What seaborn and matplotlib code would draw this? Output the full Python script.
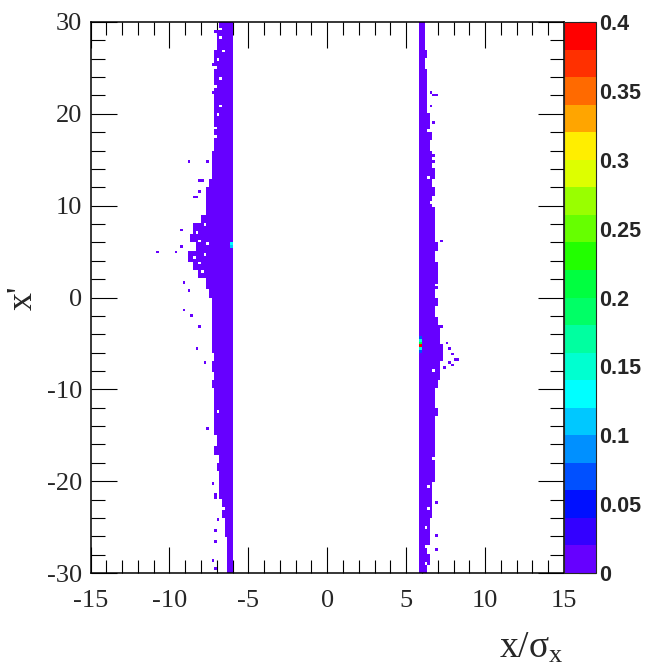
import numpy as np
import pandas as pd
import matplotlib
matplotlib.use("Agg")
import matplotlib.pyplot as plt
from matplotlib.colors import ListedColormap
from matplotlib.ticker import MultipleLocator
import seaborn as sns

# ── Binning of the 2D histogram ────────────────────────────────────────────
X_RANGE = (-15, 15)
Y_RANGE = (-30, 30)
N_XBINS = 180
N_YBINS = 200

# ── Band edge profiles, one value per 1-unit row (y = 29.5 ... -29.5) ──────
LEFT_BAND_XMAX = -6.05
LEFT_BAND_XMIN = [
    -6.9, -7.0, -7.0, -7.1, -7.1, -7.2, -7.1, -7.2, -7.2, -7.2,
    -7.2, -7.2, -7.1, -7.2, -7.3, -7.4, -7.3, -7.5, -7.6, -7.7,
    -7.6, -8.0, -8.5, -8.7, -8.4, -8.8, -8.5, -8.2, -7.6, -7.5,
    -7.4, -7.3, -7.4, -7.3, -7.4, -7.3, -7.2, -7.3, -7.2, -7.3,
    -7.2, -7.1, -7.2, -7.1, -7.2, -7.0, -7.1, -6.9, -7.0, -6.9,
    -6.8, -6.8, -6.7, -6.6, -6.5, -6.5, -6.4, -6.4, -6.3, -6.3,
]
RIGHT_BAND_XMIN = 5.85
RIGHT_BAND_XMAX = [
    6.1, 6.2, 6.2, 6.3, 6.2, 6.3, 6.4, 6.3, 6.3, 6.4,
    6.5, 6.5, 6.6, 6.5, 6.6, 6.7, 6.8, 6.7, 6.8, 6.7,
    6.8, 6.8, 6.9, 6.9, 7.0, 6.9, 7.0, 7.0, 7.0, 6.9,
    7.0, 6.9, 7.0, 7.1, 7.2, 7.3, 7.3, 7.1, 7.1, 7.0,
    6.9, 6.9, 7.0, 6.9, 6.9, 6.8, 6.9, 6.8, 6.8, 6.8,
    6.7, 6.6, 6.7, 6.6, 6.5, 6.5, 6.5, 6.4, 6.5, 6.4,
]

# isolated filled cells outside the bands
DOTS_X = [-7.1, -7.3, -7.3, -8.8, -7.6, -8.1, -7.9, -8.1, -8.3, -8.4,
          -9.2, -10.8, -9.5, -9.3, -9.0, -8.7, -9.0, -8.5, -8.1, -8.2,
          -7.8, -7.6, -7.3, -7.0, -7.1, -6.9, -7.1, -7.0, -7.2, -7.0,
          6.56, 6.83, 6.98, 6.56, 6.7, 6.7, 6.7, 7.3, 7.3, 7.6,
          7.8, 7.9, 8.1, 8.3, 7.7, 8.0, 7.5, 6.9, 6.9, 6.9]
DOTS_Y = [29.0, 25.5, 22.5, 15.0, 14.7, 12.8, 12.8, 11.4, 11.1, 10.9,
          7.3, 5.0, 4.8, 5.6, 1.6, 0.8, -1.4, -2.1, -3.1, -5.5,
          -7.0, -14.2, -20.2, -21.3, -21.8, -24.2, -25.4, -26.5, -28.7, -29.6,
          22.3, 22.0, 22.1, 21.0, 19.1, 15.6, 14.9, 6.25, -3.2, -4.9,
          -5.6, -6.3, -6.7, -6.9, -7.1, -7.3, -7.5, -22.2, -25.9, -27.5]

# empty cells inside the bands
GAPS_X = [-6.6, -6.8, -6.9, -7.0, -8.3, -8.0, -8.5, -7.8, -8.1, -7.9,
          -8.4, -7.7, -7.5, -8.6, -8.2, -7.0, -6.9, -6.6, -6.7, -6.9,
          -7.0, -6.8, -7.1, -7.0, -6.8, -7.0,
          6.3, 6.4, 6.6, 6.5, 6.5, 6.4, 6.3, 6.2, 6.3, 6.6, 6.8, 7.0,
          6.2, 6.5, 6.7]
GAPS_Y = [27.0, 24.0, 20.0, 17.5, 7.0, 6.2, 5.5, 4.6, 3.8, 2.8,
          4.2, 7.8, 6.0, 3.2, 8.4, -16.0, -12.5, -22.8, 28.4, 26.1,
          23.0, 21.0, 18.6, -18.4, 29.4, 25.0,
          25.0, 21.5, 16.4, 13.0, -20.5, -23.0, -25.0, -27.0, -29.0, 10.5, -8.0, 1.2,
          27.6, 18.2, -17.6]

# hot cells (bin content)
HOT_X = [-6.15, -6.15, -6.15, 5.95, 5.95, 5.95, 5.95, 5.95, 5.95]
HOT_Y = [6.0, 5.7, 5.4, -4.4, -4.7, -5.0, -5.3, -5.6, -5.9]
HOT_VAL = [0.10, 0.13, 0.10, 0.08, 0.15, 0.22, 0.39, 0.15, 0.08]
BASE_VALUE = 0.006

# 20-level palette, bottom (0) to top (0.4)
PALETTE = ["#6600ff", "#3300ff", "#0010ff", "#0050ff", "#0090ff",
           "#00c8ff", "#00ffff", "#00ffd0", "#00ffa0", "#00ff66",
           "#00ff40", "#22ff00", "#66ff00", "#99ff00", "#ddff00",
           "#ffee00", "#ffa500", "#ff6a00", "#ff3000", "#ff0000"]
CBAR_TICKS = [0, 0.05, 0.1, 0.15, 0.2, 0.25, 0.3, 0.35, 0.4]
CBAR_LABELS = ["0", "0.05", "0.1", "0.15", "0.2", "0.25", "0.3", "0.35", "0.4"]

# ── Build bin contents ─────────────────────────────────────────────────────
xe = np.linspace(X_RANGE[0], X_RANGE[1], N_XBINS + 1)
ye = np.linspace(Y_RANGE[0], Y_RANGE[1], N_YBINS + 1)
xc = 0.5 * (xe[1:] + xe[:-1])
yc = 0.5 * (ye[1:] + ye[:-1])
grid = np.zeros((N_YBINS, N_XBINS))

for j, y in enumerate(yc):
    row = int(np.clip(np.floor(30 - y), 0, 59))
    grid[j, (xc >= LEFT_BAND_XMIN[row]) & (xc <= LEFT_BAND_XMAX)] = BASE_VALUE
    grid[j, (xc >= RIGHT_BAND_XMIN) & (xc <= RIGHT_BAND_XMAX[row])] = BASE_VALUE


def cell(x, y):
    ix = int(np.clip(np.searchsorted(xe, x) - 1, 0, N_XBINS - 1))
    iy = int(np.clip(np.searchsorted(ye, y) - 1, 0, N_YBINS - 1))
    return iy, ix


for x, y in zip(DOTS_X, DOTS_Y):
    grid[cell(x, y)] = BASE_VALUE
for x, y in zip(GAPS_X, GAPS_Y):
    grid[cell(x, y)] = 0
for x, y, v in zip(HOT_X, HOT_Y, HOT_VAL):
    grid[cell(x, y)] = v

iy, ix = np.nonzero(grid)
df = pd.DataFrame({"x": xc[ix], "y": yc[iy], "w": grid[iy, ix]})

# ── Plot ───────────────────────────────────────────────────────────────────
sns.set_style("ticks")
plt.rcParams["font.family"] = ["Liberation Serif", "DejaVu Serif"]
plt.rcParams["mathtext.fontset"] = "custom"
plt.rcParams["mathtext.rm"] = "Liberation Serif"
plt.rcParams["mathtext.it"] = "Liberation Serif:italic"
plt.rcParams["axes.unicode_minus"] = False

fig = plt.figure(figsize=(6.54, 6.70), dpi=100)
ax = fig.add_axes([90.5 / 654, 97 / 670, 473.5 / 654, 551 / 670])
cax = fig.add_axes([564 / 654, 97 / 670, 32 / 654, 551 / 670])

cmap = ListedColormap(PALETTE)
sns.histplot(data=df, x="x", y="y", weights="w",
             bins=(N_XBINS, N_YBINS), binrange=(X_RANGE, Y_RANGE),
             cmap=cmap, vmin=0, vmax=0.4, cbar=True, cbar_ax=cax, ax=ax)

ax.set_xlim(*X_RANGE)
ax.set_ylim(*Y_RANGE)
ax.xaxis.set_major_locator(MultipleLocator(5))
ax.xaxis.set_minor_locator(MultipleLocator(1))
ax.yaxis.set_major_locator(MultipleLocator(10))
ax.yaxis.set_minor_locator(MultipleLocator(2))
ax.tick_params(which="both", direction="in", top=True, right=True,
               width=0.8, color="black", labelsize=19)
ax.tick_params(axis="x", which="major", length=19, pad=12)
ax.tick_params(axis="x", which="minor", length=9.5)
ax.tick_params(axis="y", which="major", length=19, pad=6)
ax.tick_params(axis="y", which="minor", length=10)
for s in ax.spines.values():
    s.set_linewidth(1.1)
    s.set_color("black")

ax.set_xlabel(r"$\mathrm{x/σ_x}$", fontsize=27, loc="right")
ax.xaxis.set_label_coords(1.0, -0.105)
ax.set_ylabel("x'", fontsize=26)
ax.yaxis.set_label_coords(-0.108, 0.5)

cax.set_yticks(CBAR_TICKS)
cax.set_yticklabels(CBAR_LABELS, fontfamily="Liberation Sans",
                    fontweight="bold", fontsize=15.5)
cax.tick_params(axis="y", direction="in", length=12, width=0.8,
                pad=2, right=True, left=False)
for s in cax.spines.values():
    s.set_linewidth(0.8)

fig.savefig("out.png", dpi=100)
